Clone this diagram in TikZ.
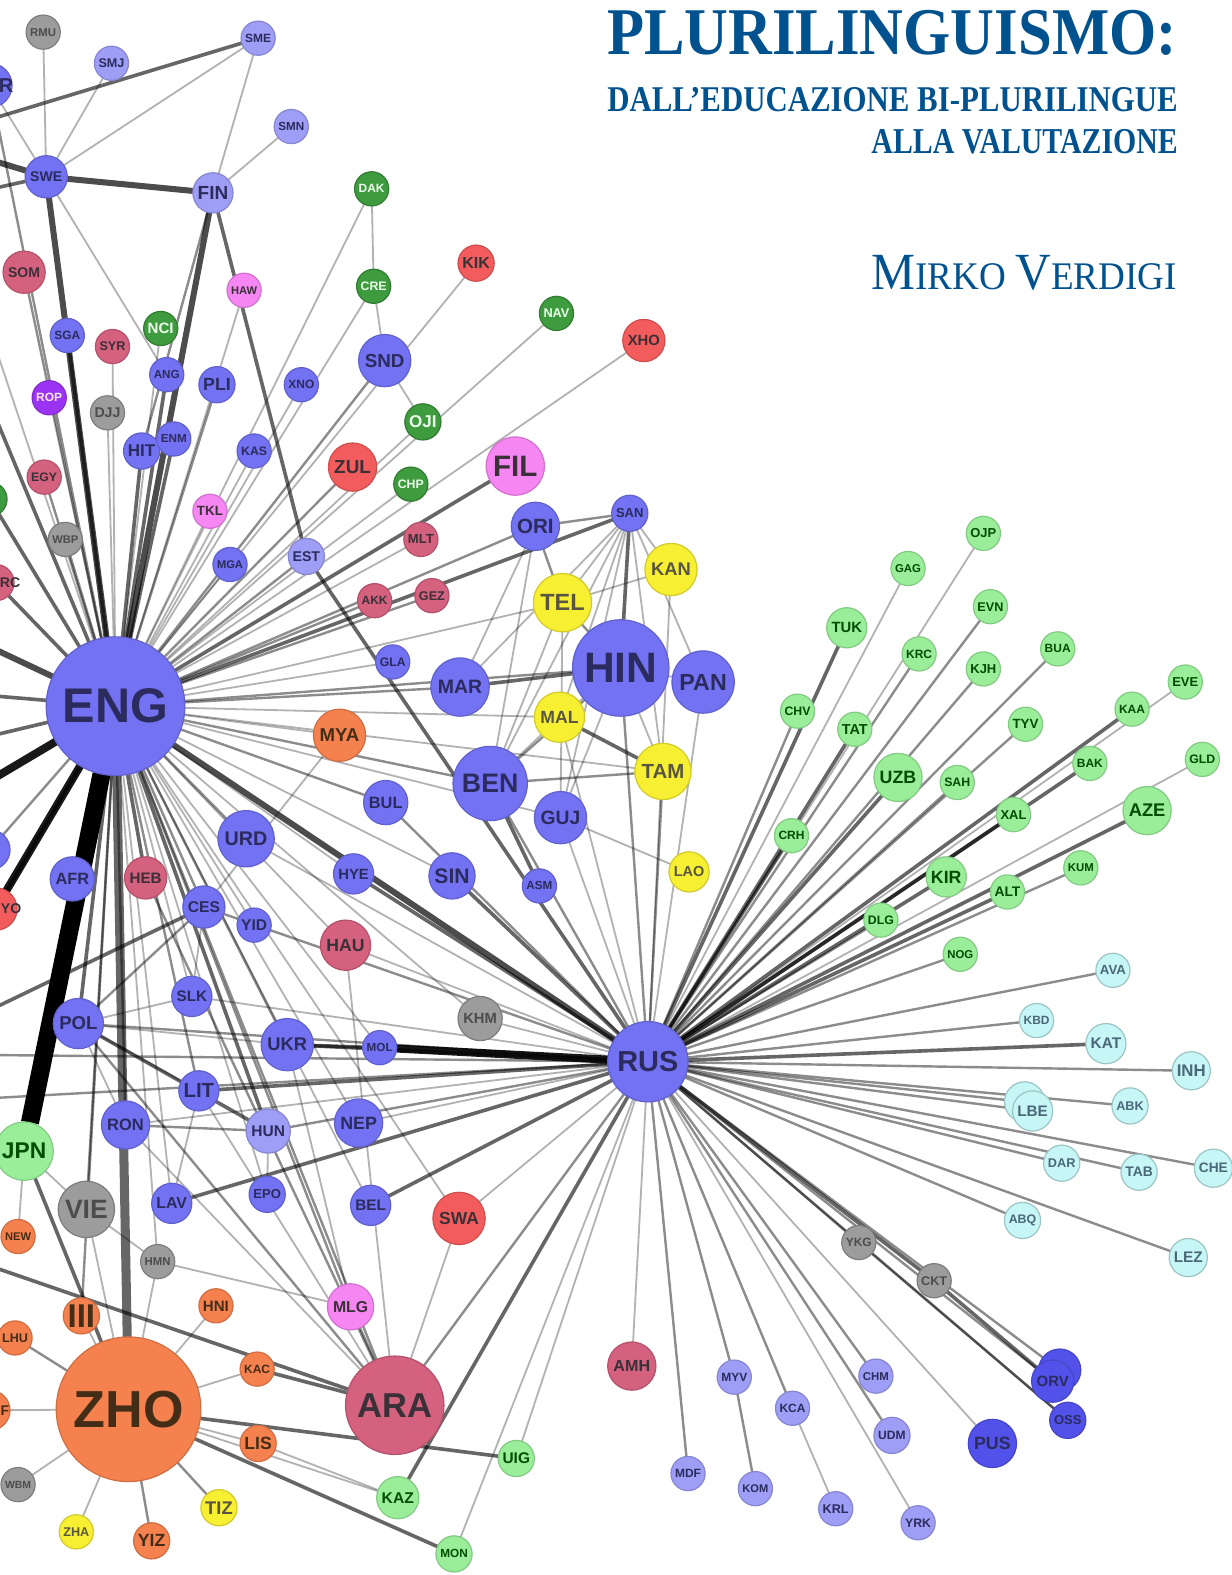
\documentclass[tikz,border=0pt]{standalone}
\usepackage{fontspec}
\setmainfont{Liberation Serif}
\setsansfont{Liberation Sans}
\usetikzlibrary{backgrounds}

\definecolor{cBlu}{HTML}{7272F2}
\definecolor{cLbl}{HTML}{9E9EF6}
\definecolor{cDbl}{HTML}{5252EA}
\definecolor{cDgr}{HTML}{3E9B3E}
\definecolor{cLgr}{HTML}{9AEE9A}
\definecolor{cCya}{HTML}{C6F6F6}
\definecolor{cRed}{HTML}{F25C5C}
\definecolor{cCrm}{HTML}{D4617E}
\definecolor{cPnk}{HTML}{F586F2}
\definecolor{cPur}{HTML}{9B33F2}
\definecolor{cGry}{HTML}{9C9C9C}
\definecolor{cOrg}{HTML}{F5814F}
\definecolor{cYel}{HTML}{F7EF32}
\definecolor{txNavy}{HTML}{2B2B5E}
\definecolor{txDark}{HTML}{3A3038}
\definecolor{titleblue}{HTML}{00528F}

% one language: name, position, radius (px), colour style, label
\newcommand\lng[5]{%
  \pgfmathsetmacro\lw{#3*0.76}%
  \node[lnode,#4,minimum size=#3pt] (#1) at (#2) {\resizebox{\lw pt}{!}{#5}};}

\begin{document}
\begin{tikzpicture}[x=0.5pt,y=-0.5pt,
  lnode/.style={circle,inner sep=0pt,outer sep=0pt,line width=0.6pt,font=\sffamily\bfseries},
  nBlu/.style={fill=cBlu,draw=cBlu!85!black,text=txNavy},
  nLbl/.style={fill=cLbl,draw=cLbl!85!black,text=txNavy},
  nDbl/.style={fill=cDbl,draw=cDbl!85!black,text=txNavy},
  nDgr/.style={fill=cDgr,draw=cDgr!80!black,text=white!92!green},
  nLgr/.style={fill=cLgr,draw=cLgr!85!black,text=black!70!green},
  nCya/.style={fill=cCya,draw=cCya!80!black,text=black!60!cyan},
  nRed/.style={fill=cRed,draw=cRed!85!black,text=txDark},
  nCrm/.style={fill=cCrm,draw=cCrm!85!black,text=txDark},
  nPnk/.style={fill=cPnk,draw=cPnk!85!black,text=txDark},
  nPur/.style={fill=cPur,draw=cPur!85!black,text=white!90!magenta},
  nGry/.style={fill=cGry,draw=cGry!80!black,text=black!70},
  nOrg/.style={fill=cOrg,draw=cOrg!85!black,text=black!65!brown},
  nYel/.style={fill=cYel,draw=cYel!85!black,text=black!75!yellow},
  plab/.style={inner sep=0pt,font=\sffamily\bfseries\fontsize{7pt}{7pt}\selectfont},
  ea/.style={line width=0.7pt,draw=black,draw opacity=0.2},
  eb/.style={line width=0.9pt,draw=black,draw opacity=0.3},
  ec/.style={line width=1.2pt,draw=black,draw opacity=0.45},
  ed/.style={line width=1.8pt,draw=black,draw opacity=0.6},
  ee/.style={line width=3pt,draw=black,draw opacity=0.7},
  ek/.style={line width=4pt,draw=black,draw opacity=0.9},
  ef/.style={line width=9pt,draw=black}]
\useasboundingbox (0,0) rectangle (1226,1568);

% ---- title block ----
\node[anchor=south east,inner sep=0pt,text=titleblue,font=\bfseries] (title) at (1172,56)
  {\resizebox{283.5pt}{22pt}{PLURILINGUISMO:}};
\node[anchor=south east,inner sep=0pt,text=titleblue,font=\bfseries] (sub1) at (1173,112)
  {\resizebox{284pt}{12pt}{DALL’EDUCAZIONE BI-PLURILINGUE}};
\node[anchor=south east,inner sep=0pt,text=titleblue,font=\bfseries] (sub2) at (1173,154)
  {\resizebox{152.5pt}{12pt}{ALLA VALUTAZIONE}};
\node[anchor=south east,inner sep=0pt,text=titleblue] (author) at (1172,289)
  {\resizebox{152pt}{17pt}{\fontsize{26}{26}\selectfont M\fontsize{19.5}{19.5}\selectfont IRKO
   \fontsize{26}{26}\selectfont V\fontsize{19.5}{19.5}\selectfont ERDIGI}};

% ---- nodes cut by the left edge ----
\node[lnode,nBlu,minimum size=22pt] (NOR) at (-10,85) {};
\node[plab,text=txNavy,font=\sffamily\bfseries\fontsize{10pt}{10pt}\selectfont] (NORt) at (6,85) {R};
\node[lnode,nDgr,minimum size=17pt] (GRX) at (-10,497) {};
\node[lnode,nCrm,minimum size=18pt] (ARC) at (-4,580) {};
\node[plab,text=txDark] (ARCt) at (10,580) {RC};
\node[lnode,nBlu,minimum size=20pt] (BLX) at (-10,846) {};
\node[lnode,nRed,minimum size=21pt] (YOR) at (-4,905) {};
\node[plab,text=txDark] (YORt) at (11,905) {YO};
\node[lnode,nOrg,minimum size=20pt] (FXX) at (-10,1404) {};
\node[plab,text=black!65!brown] (FXXt) at (5,1404) {F};

% ---- language nodes ----
\lng{RMU}{43,32}{17}{nGry}{RMU}
\lng{SMJ}{111,63}{17}{nLbl}{SMJ}
\lng{SME}{257,38}{17}{nLbl}{SME}
\lng{SMN}{290,126}{17}{nLbl}{SMN}
\lng{SWE}{46,176}{21}{nBlu}{SWE}
\lng{FIN}{212,192}{20}{nLbl}{FIN}
\lng{DAK}{370,188}{17}{nDgr}{DAK}
\lng{CRE}{372,285}{17}{nDgr}{CRE}
\lng{KIK}{474,262}{18}{nRed}{KIK}
\lng{SOM}{24,271}{21}{nCrm}{SOM}
\lng{HAW}{243,289}{17}{nPnk}{HAW}
\lng{NAV}{554,312}{17}{nDgr}{NAV}
\lng{XHO}{641,339}{21}{nRed}{XHO}
\lng{SGA}{67,334}{17}{nBlu}{SGA}
\lng{SYR}{112,345}{17}{nCrm}{SYR}
\lng{NCI}{160,327}{17}{nDgr}{NCI}
\lng{ANG}{166,373}{17}{nBlu}{ANG}
\lng{PLI}{216,383}{18}{nBlu}{PLI}
\lng{XNO}{300,383}{17}{nBlu}{XNO}
\lng{SND}{383,359}{26}{nBlu}{SND}
\lng{ROP}{49,396}{17}{nPur}{ROP}
\lng{DJJ}{107,411}{17}{nGry}{DJJ}
\lng{OJI}{421,420}{18}{nDgr}{OJI}
\lng{HIT}{141,449}{18}{nBlu}{HIT}
\lng{ENM}{173,437}{17}{nBlu}{ENM}
\lng{KAS}{253,449}{17}{nBlu}{KAS}
\lng{ZUL}{351,465}{24}{nRed}{ZUL}
\lng{FIL}{513,464}{29}{nPnk}{FIL}
\lng{EGY}{44,475}{17}{nCrm}{EGY}
\lng{CHP}{409,482}{17}{nDgr}{CHP}
\lng{TKL}{209,509}{17}{nPnk}{TKL}
\lng{WBP}{65,537}{17}{nGry}{WBP}
\lng{MLT}{419,537}{17}{nCrm}{MLT}
\lng{MGA}{229,562}{17}{nBlu}{MGA}
\lng{EST}{305,554}{18}{nLbl}{EST}
\lng{ORI}{533,524}{24}{nBlu}{ORI}
\lng{SAN}{627,511}{18}{nBlu}{SAN}
\lng{AKK}{373,598}{17}{nCrm}{AKK}
\lng{GEZ}{430,593}{17}{nCrm}{GEZ}
\lng{KAN}{668,567}{26}{nYel}{KAN}
\lng{TEL}{560,600}{29}{nYel}{TEL}
\lng{GLA}{391,659}{17}{nBlu}{GLA}
\lng{HIN}{618,665}{48}{nBlu}{HIN}
\lng{PAN}{700,679}{31}{nBlu}{PAN}
\lng{MAR}{458,684}{29}{nBlu}{MAR}
\lng{ENG}{115,703}{69}{nBlu}{ENG}
\lng{MAL}{557,714}{25}{nYel}{MAL}
\lng{MYA}{338,732}{26}{nOrg}{MYA}
\lng{TAM}{660,768}{28}{nYel}{TAM}
\lng{BEN}{488,780}{37}{nBlu}{BEN}
\lng{BUL}{384,799}{22}{nBlu}{BUL}
\lng{GUJ}{558,814}{26}{nBlu}{GUJ}
\lng{URD}{245,835}{28}{nBlu}{URD}
\lng{LAO}{686,868}{20}{nYel}{LAO}
\lng{HYE}{352,870}{20}{nBlu}{HYE}
\lng{SIN}{450,872}{23}{nBlu}{SIN}
\lng{ASM}{537,882}{17}{nBlu}{ASM}
\lng{AFR}{72,875}{22}{nBlu}{AFR}
\lng{HEB}{145,874}{21}{nCrm}{HEB}
\lng{CES}{203,903}{21}{nBlu}{CES}
\lng{YID}{253,921}{17}{nBlu}{YID}
\lng{HAU}{344,941}{25}{nCrm}{HAU}
\lng{SLK}{191,992}{20}{nBlu}{SLK}
\lng{KHM}{478,1014}{22}{nGry}{KHM}
\lng{POL}{78,1019}{25}{nBlu}{POL}
\lng{UKR}{286,1040}{26}{nBlu}{UKR}
\lng{MOL}{378,1043}{17}{nBlu}{MOL}
\lng{RUS}{645,1057}{40}{nBlu}{RUS}
\lng{LIT}{198,1086}{20}{nBlu}{LIT}
\lng{NEP}{357,1118}{24}{nBlu}{NEP}
\lng{RON}{125,1120}{24}{nBlu}{RON}
\lng{HUN}{267,1126}{22}{nLbl}{HUN}
\lng{JPN}{24,1146}{29}{nLgr}{JPN}
\lng{LAV}{171,1198}{20}{nBlu}{LAV}
\lng{EPO}{266,1189}{18}{nBlu}{EPO}
\lng{BEL}{369,1200}{20}{nBlu}{BEL}
\lng{VIE}{86,1204}{28}{nGry}{VIE}
\lng{SWA}{457,1213}{26}{nRed}{SWA}
\lng{NEW}{18,1231}{17}{nOrg}{NEW}
\lng{HMN}{157,1256}{17}{nGry}{HMN}
\lng{HNI}{215,1300}{17}{nOrg}{HNI}
\lng{MLG}{349,1301}{23}{nPnk}{MLG}
\lng{III}{81,1310}{18}{nOrg}{III}
\lng{LHU}{15,1332}{17}{nOrg}{LHU}
\lng{KAC}{256,1363}{17}{nOrg}{KAC}
\lng{AMH}{629,1360}{24}{nCrm}{AMH}
\lng{ZHO}{128,1403}{72}{nOrg}{ZHO}
\lng{ARA}{393,1399}{49}{nCrm}{ARA}
\lng{LIS}{257,1437}{18}{nOrg}{LIS}
\lng{UIG}{514,1452}{18}{nLgr}{UIG}
\lng{WBM}{18,1478}{17}{nGry}{WBM}
\lng{KAZ}{396,1491}{21}{nLgr}{KAZ}
\lng{TIZ}{218,1501}{18}{nYel}{TIZ}
\lng{ZHA}{76,1525}{17}{nYel}{ZHA}
\lng{YIZ}{151,1534}{18}{nOrg}{YIZ}
\lng{MON}{452,1547}{18}{nLgr}{MON}
% Turkic, Mongolic, Tungusic
\lng{OJP}{979,531}{17}{nLgr}{OJP}
\lng{GAG}{904,566}{17}{nLgr}{GAG}
\lng{EVN}{986,604}{17}{nLgr}{EVN}
\lng{TUK}{843,625}{20}{nLgr}{TUK}
\lng{KRC}{915,651}{17}{nLgr}{KRC}
\lng{BUA}{1053,646}{17}{nLgr}{BUA}
\lng{KJH}{979,666}{17}{nLgr}{KJH}
\lng{EVE}{1180,679}{17}{nLgr}{EVE}
\lng{CHV}{794,708}{17}{nLgr}{CHV}
\lng{KAA}{1127,706}{17}{nLgr}{KAA}
\lng{TAT}{851,726}{17}{nLgr}{TAT}
\lng{TYV}{1021,721}{17}{nLgr}{TYV}
\lng{GLD}{1197,756}{17}{nLgr}{GLD}
\lng{BAK}{1085,760}{17}{nLgr}{BAK}
\lng{UZB}{894,774}{24}{nLgr}{UZB}
\lng{SAH}{953,779}{17}{nLgr}{SAH}
\lng{AZE}{1142,807}{24}{nLgr}{AZE}
\lng{XAL}{1009,811}{17}{nLgr}{XAL}
\lng{CRH}{788,832}{17}{nLgr}{CRH}
\lng{KUM}{1076,864}{17}{nLgr}{KUM}
\lng{KIR}{942,873}{20}{nLgr}{KIR}
\lng{ALT}{1003,888}{17}{nLgr}{ALT}
\lng{DLG}{877,916}{17}{nLgr}{DLG}
\lng{NOG}{956,950}{17}{nLgr}{NOG}
% Caucasian
\lng{AVA}{1108,966}{17}{nCya}{AVA}
\lng{KBD}{1032,1016}{17}{nCya}{KBD}
\lng{KAT}{1101,1039}{20}{nCya}{KAT}
\lng{INH}{1186,1066}{19}{nCya}{INH}
\node[lnode,nCya,minimum size=20pt] (LBX) at (1020,1097) {};
\lng{LBE}{1028,1106}{20}{nCya}{LBE}
\lng{ABK}{1125,1101}{18}{nCya}{ABK}
\lng{DAR}{1057,1158}{18}{nCya}{DAR}
\lng{TAB}{1134,1167}{18}{nCya}{TAB}
\lng{CHE}{1208,1163}{19}{nCya}{CHE}
\lng{ABQ}{1018,1215}{18}{nCya}{ABQ}
\lng{LEZ}{1183,1252}{19}{nCya}{LEZ}
% Siberian, Uralic, Iranian
\lng{YKG}{855,1237}{17}{nGry}{YKG}
\lng{CKT}{930,1275}{17}{nGry}{CKT}
\node[lnode,nDbl,minimum size=21pt] (OKX) at (1055,1364) {};
\lng{ORV}{1048,1375}{21}{nDbl}{ORV}
\lng{MYV}{731,1371}{17}{nLbl}{MYV}
\lng{CHM}{872,1370}{17}{nLbl}{CHM}
\lng{KCA}{789,1402}{17}{nLbl}{KCA}
\lng{OSS}{1063,1414}{18}{nDbl}{OSS}
\lng{UDM}{888,1429}{18}{nLbl}{UDM}
\lng{PUS}{988,1437}{24}{nDbl}{PUS}
\lng{MDF}{685,1467}{17}{nLbl}{MDF}
\lng{KOM}{752,1482}{17}{nLbl}{KOM}
\lng{KRL}{832,1502}{17}{nLbl}{KRL}
\lng{YRK}{914,1516}{17}{nLbl}{YRK}

% ---- free ends of links leaving the frame ----
\coordinate (w1) at (-40,150);
\coordinate (w2) at (-40,195);
\coordinate (w3) at (-40,240);
\coordinate (w4) at (-40,128);
\coordinate (w5) at (-40,330);
\coordinate (w6) at (-40,630);
\coordinate (w7) at (-40,690);
\coordinate (w8) at (-40,740);
\coordinate (w9) at (-40,795);
\coordinate (w10) at (-40,965);
\coordinate (w11) at (-40,1050);
\coordinate (w12) at (-40,1095);
\coordinate (w13) at (-40,1250);
\coordinate (w14) at (-40,1020);
\coordinate (w15) at (-40,1110);

% ---- links ----
\begin{pgfonlayer}{background}
\fill[white] (0,0) rectangle (1226,1568);
\foreach \a/\b in {ENG/SYR,ENG/NCI,ENG/XNO,ENG/ROP,ENG/DJJ,ENG/KAS,ENG/CHP,ENG/TKL,ENG/MLT,
  ENG/MGA,ENG/TEL,ENG/GLA,ENG/MAL,ENG/MYA,ENG/TAM,ENG/GUJ,ENG/HYE,ENG/SIN,ENG/YID,ENG/HAU,
  ENG/SLK,ENG/KHM,ENG/NEP,ENG/LAV,ENG/EPO,ENG/BEL,ENG/SWA,ENG/HMN,ENG/DAK,ENG/CRE,ENG/OJI,
  ENG/NAV,ENG/KIK,ENG/XHO,ENG/HAW,ENG/MOL,SWE/SME,SWE/SMJ,SWE/RMU,SWE/NOR,SWE/ANG,SME/FIN,
  SMN/FIN,DAK/CRE,CRE/SND,SND/OJI,SAN/TEL,SAN/KAN,SAN/MAR,SAN/BEN,SAN/MAL,SAN/TAM,SAN/GUJ,
  SAN/PAN,ORI/MAR,ORI/BEN,HIN/PAN,HIN/TAM,HIN/MAL,HIN/GUJ,BEN/MAL,KAN/TEL,TEL/BEN,TEL/GUJ,
  KAN/RUS,PAN/RUS,MAL/RUS,GUJ/RUS,GUJ/LAO,NEP/RUS,KHM/RUS,SLK/RUS,SWA/RUS,RON/RUS,URD/RUS,
  HAU/RUS,ZHO/III,ZHO/FXX,ZHO/WBM,ZHO/ZHA,ZHO/LIS,ZHO/KAC,ZHO/HNI,ZHO/HMN,ZHO/KAZ,ZHO/VIE,
  VIE/JPN,VIE/HMN,HMN/MLG,NEW/JPN,ARA/SWA,ARA/HAU,LIT/ARA,RON/ARA,UKR/MLG,LIS/KAZ,RUS/UIG,
  RUS/MON,RUS/AMH,KCA/KRL,RUS/YRK,RUS/PUS,POL/SLK,POL/UKR,POL/LIT,POL/RON,CES/SLK,LIT/LAV,
  HUN/EPO,GAG/RUS,OJP/RUS,EVE/RUS,GLD/RUS,MYA/CES,ENG/w3}
  \draw[eb] (\a) -- (\b);
\foreach \a/\b in {ENG/SOM,ENG/PLI,ENG/SND,ENG/ZUL,ENG/EGY,ENG/WBP,ENG/EST,ENG/ORI,ENG/AKK,
  ENG/GEZ,ENG/HIN,ENG/MAR,ENG/BEN,ENG/BUL,ENG/URD,ENG/CES,ENG/UKR,ENG/LIT,ENG/RON,ENG/VIE,
  ENG/MLG,ENG/III,ENG/ARA,ENG/NOR,ENG/BLX,FIN/HIT,HIN/BEN,HIN/TEL,HIN/RUS,ORI/TEL,SAN/ORI,
  BEN/TAM,TAM/RUS,BEN/RUS,POL/RUS,HUN/RUS,CES/RUS,BUL/RUS,POL/CES,HUN/RON,ZHO/LHU,ZHO/YIZ,
  ZHO/TIZ,ARA/MLG,ARA/RUS,ARA/HEB,POL/ARA,RUS/MDF,RUS/MYV,MYV/KOM,RUS/KCA,RUS/CHM,RUS/UDM,
  RUS/YKG,YKG/OSS,RUS/ORV,RUS/OSS,CHV/RUS,KRC/RUS,EVN/RUS,KJH/RUS,BUA/RUS,SAH/RUS,TYV/RUS,
  DLG/RUS,KUM/RUS,NOG/RUS,AVA/RUS,KBD/RUS,INH/RUS,LBE/RUS,LBX/RUS,ABK/RUS,DAR/RUS,TAB/RUS,
  CHE/RUS,ABQ/RUS,LEZ/RUS,w11/RUS,w12/RUS,RUS/OKX}
  \draw[ec] (\a) -- (\b);
\foreach \a/\b in {ENG/SGA,ENG/ANG,ENG/HIT,ENG/ENM,ENG/FIL,ENG/AFR,ENG/HEB,ENG/POL,ENG/HUN,
  ENG/ARC,ENG/YOR,ENG/GRX,ENG/SAN,ENG/w7,ENG/w8,ENG/w5,FIN/EST,EST/RUS,SAN/HIN,HIN/MAR,
  MAL/TAM,BEN/ASM,SIN/RUS,HYE/RUS,UKR/MOL,UKR/RUS,LIT/RUS,LAV/RUS,BEL/RUS,CES/w14,SWE/w2,
  SME/w4,ZHO/JPN,ZHO/MON,ZHO/UIG,KAC/ARA,w13/ARA,RUS/KAZ,POL/HUN,TUK/RUS,CRH/RUS,TAT/RUS,
  UZB/RUS,XAL/RUS,KIR/RUS,BAK/RUS,KAA/RUS,AZE/RUS,ALT/RUS,KAT/RUS,RUS/CKT,CKT/ORV,JPN/w15}
  \draw[ed] (\a) -- (\b);
\foreach \a/\b in {ENG/SWE,ENG/FIN,ENG/RUS,SWE/FIN,ENG/w6,SWE/w1}
  \draw[ee] (\a) -- (\b);
\draw[line width=4.5pt,draw=black,draw opacity=0.6] (ENG) -- (ZHO);
\foreach \a/\b in {ENG/w10,ENG/w9,MOL/RUS}
  \draw[ek] (\a) -- (\b);
\draw[ef] (ENG) -- (JPN);
\end{pgfonlayer}
\end{tikzpicture}
\end{document}
